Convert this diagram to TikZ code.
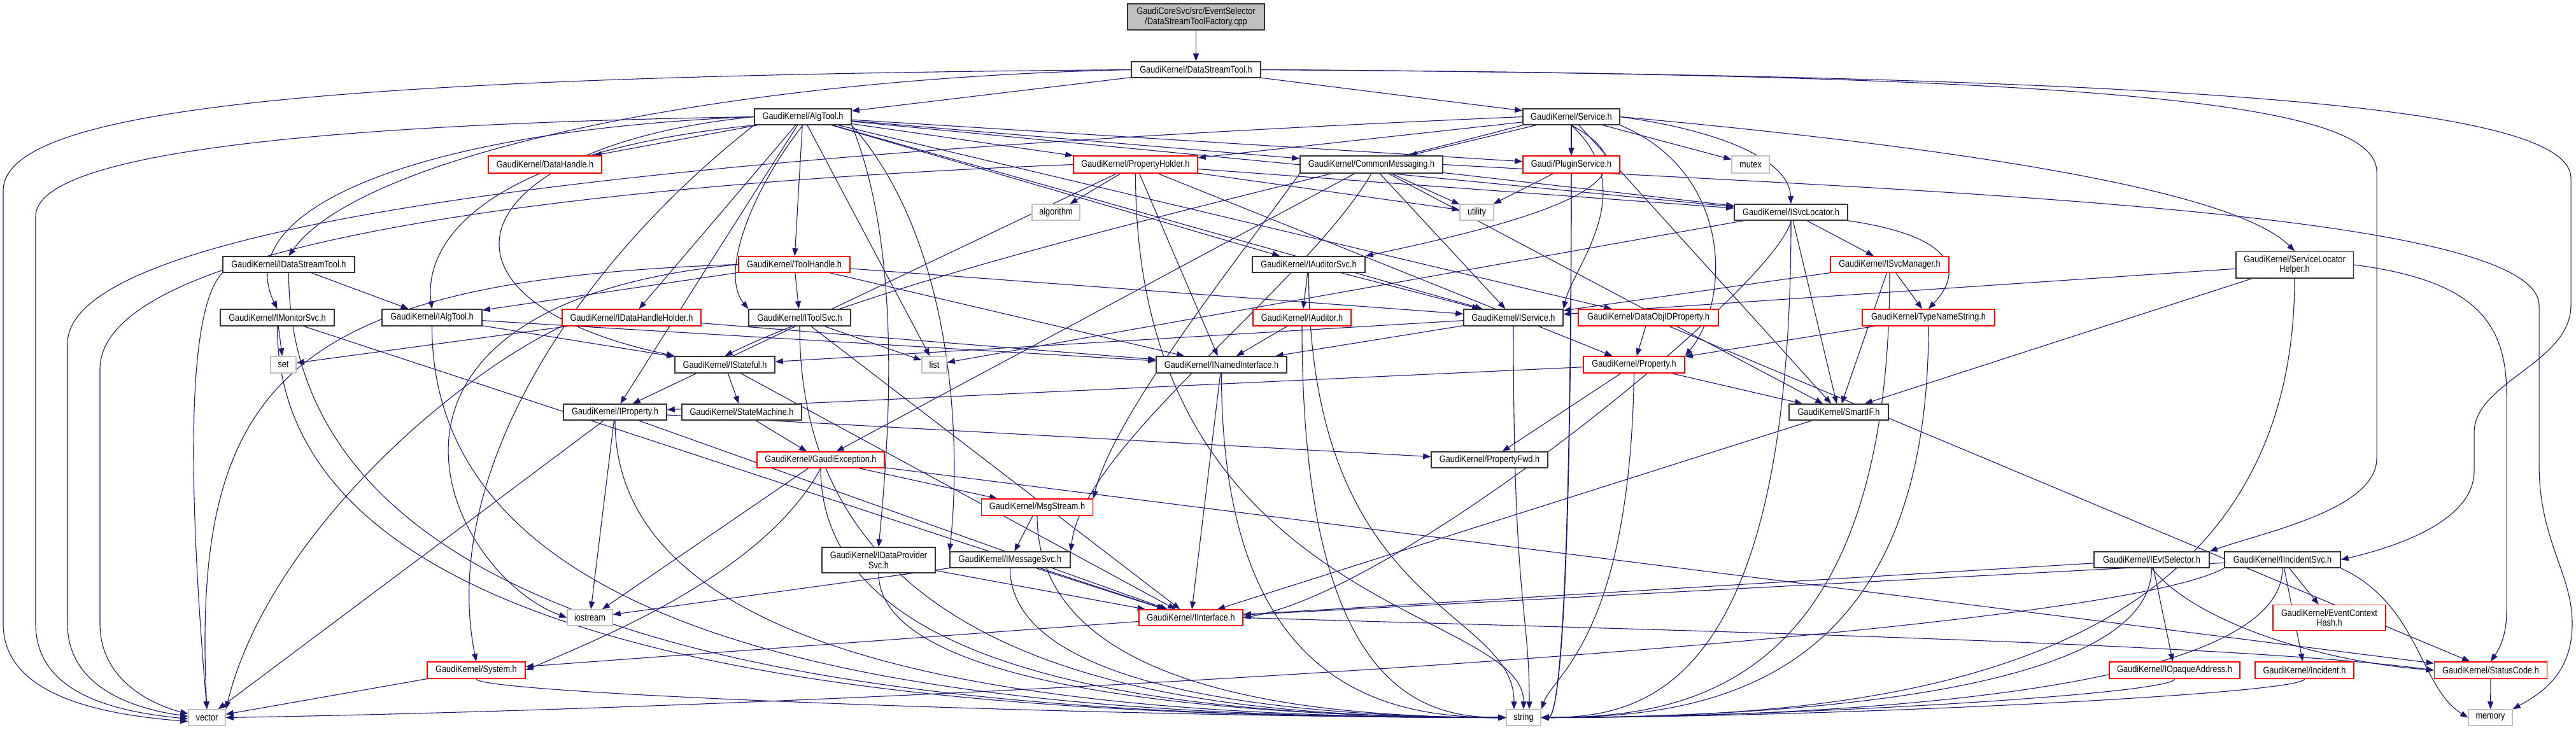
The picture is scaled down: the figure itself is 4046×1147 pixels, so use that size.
\documentclass[tikz,border=0pt]{standalone}
\usepackage{fontspec}
\newfontfamily\lbfont{Liberation Sans}[FakeStretch=0.85]
\usetikzlibrary{arrows.meta,calc}
\definecolor{edgecol}{HTML}{191970}
\definecolor{nodegray}{HTML}{BFBFBF}
\pgfdeclarelayer{edgelayer}
\pgfsetlayers{edgelayer,main}
\tikzset{
  nb/.style={draw=black!80, line width=1.5pt, fill=white, inner sep=0pt, align=center,
             font={\lbfont\fontsize{15}{15.5}\selectfont}},
  rb/.style={nb, draw=red},
  gb/.style={nb, draw=nodegray},
  rootb/.style={nb, fill=nodegray},
  edge/.style={draw=edgecol, line width=1.1pt, -{Triangle[length=12pt,width=9pt]}},
}
\newcommand\nd[7]{\node[#1,minimum width=#5pt,minimum height=#6pt] (#2) at (#3,#4) {#7};}
\newcommand\strL[1]{\draw[edge] (#1.south) .. controls (#1.south |- 0,1090) and ($(#1.south |- 0,1125)!0.6!(string.west)$) .. (string.west);}
\newcommand\strR[1]{\draw[edge] (#1.south) .. controls (#1.south |- 0,1090) and ($(#1.south |- 0,1125)!0.6!(string.east)$) .. (string.east);}
\newcommand\strT[2]{\draw[edge] (#1.south) .. controls (#1.south |- 0,960) and ($(string.north)+(#2,-160)$) .. ($(string.north)+(#2,0)$);}
\begin{document}
\begin{tikzpicture}[x=1pt,y=-1pt]
\useasboundingbox (0,0) rectangle (4046,1147);
% nodes
\nd{rootb}{root}{1878.5}{26.5}{215}{41}{GaudiCoreSvc/src/EventSelector\\/DataStreamToolFactory.cpp}
\nd{nb}{dst}{1878.5}{109.5}{203}{25}{GaudiKernel/DataStreamTool.h}
\nd{nb}{algtool}{1261}{183.5}{152}{25}{GaudiKernel/AlgTool.h}
\nd{nb}{service}{2468}{183.5}{152}{25}{GaudiKernel/Service.h}
\nd{rb}{datahandle}{856}{258.5}{178}{27}{GaudiKernel/DataHandle.h}
\nd{rb}{propholder}{1783.5}{258.5}{195}{27}{GaudiKernel/PropertyHolder.h}
\nd{nb}{commonmsg}{2154}{258.5}{224}{27}{GaudiKernel/CommonMessaging.h}
\nd{rb}{pluginsvc}{2468}{258.5}{152}{27}{Gaudi/PluginService.h}
\nd{gb}{mutex}{2749.5}{258.5}{59}{27}{mutex}
\nd{gb}{algorithm}{1658.5}{333.5}{75}{25}{algorithm}
\nd{gb}{utility}{2319.5}{333.5}{53}{25}{utility}
\nd{nb}{isvcloc}{2813}{333.5}{178}{25}{GaudiKernel/ISvcLocator.h}
\nd{nb}{idst}{453.5}{415.5}{207}{25}{GaudiKernel/IDataStreamTool.h}
\nd{rb}{toolhandle}{1247.5}{415.5}{175}{25}{GaudiKernel/ToolHandle.h}
\nd{nb}{iauditorsvc}{2055.5}{415.5}{177}{25}{GaudiKernel/IAuditorSvc.h}
\nd{rb}{isvcmgr}{2968}{415.5}{186}{25}{GaudiKernel/ISvcManager.h}
\nd{nb}{slh}{3604}{416}{184.5}{41.5}{GaudiKernel/ServiceLocator\\Helper.h}
\nd{nb}{imonitorsvc}{435.5}{499}{179}{26}{GaudiKernel/IMonitorSvc.h}
\nd{nb}{ialgtool}{678.5}{499}{157}{26}{GaudiKernel/IAlgTool.h}
\nd{rb}{idhh}{992}{499}{218}{26}{GaudiKernel/IDataHandleHolder.h}
\nd{nb}{itoolsvc}{1256}{499}{160}{26}{GaudiKernel/IToolSvc.h}
\nd{rb}{iauditor}{2045}{499}{154}{26}{GaudiKernel/IAuditor.h}
\nd{nb}{iservice}{2377}{499}{156}{26}{GaudiKernel/IService.h}
\nd{rb}{dataobjid}{2589}{499}{220}{26}{GaudiKernel/DataObjIDProperty.h}
\nd{rb}{typename}{3029}{499}{208}{26}{GaudiKernel/TypeNameString.h}
\nd{gb}{set}{445}{573}{40}{26}{set}
\nd{nb}{istateful}{1138.5}{573}{157}{26}{GaudiKernel/IStateful.h}
\nd{gb}{list}{1467.5}{573}{39}{26}{list}
\nd{nb}{inamed}{1918.5}{573}{205}{26}{GaudiKernel/INamedInterface.h}
\nd{rb}{property}{2566.5}{573}{159}{26}{GaudiKernel/Property.h}
\nd{nb}{iproperty}{966}{647.5}{162}{25}{GaudiKernel/IProperty.h}
\nd{nb}{statemachine}{1165}{647.5}{188}{25}{GaudiKernel/StateMachine.h}
\nd{nb}{smartif}{2888}{647.5}{156}{25}{GaudiKernel/SmartIF.h}
\nd{rb}{gaudiexc}{1289}{722.5}{200}{25}{GaudiKernel/GaudiException.h}
\nd{nb}{propfwd}{2339.5}{722.5}{183}{25}{GaudiKernel/PropertyFwd.h}
\nd{rb}{msgstream}{1629}{797}{175}{26}{GaudiKernel/MsgStream.h}
\nd{nb}{idps}{1380}{880}{178}{40}{GaudiKernel/IDataProvider\\Svc.h}
\nd{nb}{imessagesvc}{1586.5}{879.5}{189}{25}{GaudiKernel/IMessageSvc.h}
\nd{nb}{ievtsel}{3379.5}{879.5}{181}{25}{GaudiKernel/IEvtSelector.h}
\nd{nb}{iincsvc}{3585}{879.5}{182}{25}{GaudiKernel/IIncidentSvc.h}
\nd{gb}{iostream}{926.5}{970.5}{71}{25}{iostream}
\nd{rb}{iinterface}{1870.5}{970.5}{163}{25}{GaudiKernel/IInterface.h}
\nd{rb}{ech}{3658.5}{970.5}{177}{40}{GaudiKernel/EventContext\\Hash.h}
\nd{rb}{system}{748}{1053}{154}{26}{GaudiKernel/System.h}
\nd{rb}{iopaque}{3415.5}{1053}{205}{26}{GaudiKernel/IOpaqueAddress.h}
\nd{rb}{incident}{3619.5}{1053}{155}{26}{GaudiKernel/Incident.h}
\nd{rb}{statuscode}{3912}{1053}{177}{26}{GaudiKernel/StatusCode.h}
\nd{gb}{vector}{325}{1127.5}{58}{25}{vector}
\nd{gb}{string}{2393}{1127.5}{54}{25}{string}
\nd{gb}{memory}{3911.5}{1127.5}{69}{25}{memory}
\begin{pgfonlayer}{edgelayer}
\fill[white] (0,0) rectangle (4046,1147);
% root and DataStreamTool
\draw[edge] (root) -- (dst);
\draw[edge] (dst) -- (algtool);
\draw[edge] (dst) -- (service);
\draw[edge] (dst.west) .. controls (1100,125) and (560,250) .. (idst.north);
\draw[edge] (dst.west) .. controls (500,120) and (5,170) .. (5,300) -- (5,980) .. controls (5,1090) and (150,1122) .. ([yshift=-6pt]vector.west);
\draw[edge] (dst.east) .. controls (3300,118) and (3733,160) .. (3733,270) -- (3733,720) .. controls (3733,800) and (3560,835) .. (ievtsel.north east);
\draw[edge] (dst.east) .. controls (3500,120) and (4038,170) .. (4038,280) -- (4038,480) .. controls (4038,570) and (3886,600) .. (3886,680) -- (3886,740) .. controls (3886,820) and (3760,860) .. (iincsvc.east);
% AlgTool
\draw[edge] (algtool) -- (datahandle);
\draw[edge] (algtool) -- (propholder);
\draw[edge] (algtool) -- (commonmsg);
\draw[edge] (algtool) -- (pluginsvc);
\draw[edge] (algtool) -- (isvcloc);
\draw[edge] (algtool) -- (iauditorsvc);
\draw[edge] (algtool) -- (toolhandle);
\draw[edge] (algtool.south west) .. controls (760,240) and (665,380) .. (ialgtool.north);
\draw[edge] (algtool.west) .. controls (650,205) and (360,330) .. (imonitorsvc.north);
\draw[edge] (algtool) -- (idhh);
\draw[edge] (algtool.south) .. controls (1180,300) and (1130,430) .. (itoolsvc.north west);
\draw[edge] (algtool.west) .. controls (720,230) and (640,470) .. (istateful.north west);
\draw[edge] (algtool) -- (iproperty);
\draw[edge] (algtool) -- (iservice);
\draw[edge] (algtool) -- (dataobjid);
\draw[edge] (algtool) -- (list);
\draw[edge] (algtool.south east) .. controls (1420,400) and (1395,700) .. (idps.north);
\draw[edge] (algtool.south east) .. controls (1500,380) and (1510,700) .. (imessagesvc.north west);
\draw[edge] (algtool.west) .. controls (500,195) and (56,240) .. (56,340) -- (56,980) .. controls (56,1090) and (180,1118) .. ([yshift=-2pt]vector.west);
\draw[edge] (algtool.south west) .. controls (900,420) and (690,750) .. (system.north);
% Service
\draw[edge] (service) -- (commonmsg);
\draw[edge] (service) -- (pluginsvc);
\draw[edge] (service) -- (mutex);
\draw[edge] (service) -- (propholder);
\draw[edge] (service.east) .. controls (2700,205) and (2810,250) .. (isvcloc.north);
\draw[edge] (service.south) .. controls (2620,280) and (2440,340) .. (iauditorsvc.north east);
\draw[edge] (service.south) .. controls (2580,300) and (2470,420) .. (iservice.north east);
\draw[edge] (service.east) .. controls (3000,225) and (3500,290) .. (slh.north);
\draw[edge] (service.south east) .. controls (2720,270) and (2720,470) .. (property.north east);
\draw[edge] (service) -- (smartif);
\draw[edge] (service.south west) .. controls (2000,300) and (1400,430) .. (istateful.north);
\draw[edge] (service.west) .. controls (1200,235) and (106,330) .. (106,540) -- (106,980) .. controls (106,1085) and (220,1115) .. ([yshift=2pt]vector.west);
\strR{service}
% PropertyHolder
\draw[edge] (propholder) -- (algorithm);
\draw[edge] (propholder) -- (utility);
\draw[edge] (propholder) -- (iproperty);
\draw[edge] (propholder) -- (inamed);
\draw[edge] (propholder) -- (property);
\draw[edge] (propholder) -- (isvcloc);
\draw[edge] (propholder.west) .. controls (900,290) and (157,380) .. (157,580) -- (157,980) .. controls (157,1075) and (250,1110) .. ([yshift=6pt]vector.west);
\strT{propholder}{0}
% CommonMessaging
\draw[edge] (commonmsg) -- (utility);
\draw[edge] (commonmsg) -- (isvcloc);
\draw[edge] (commonmsg.south) .. controls (2050,450) and (1700,700) .. (imessagesvc.north east);
\draw[edge] (commonmsg.south west) .. controls (1950,400) and (1750,650) .. (msgstream.north east);
\draw[edge] (commonmsg) -- (smartif);
\draw[edge] (commonmsg) -- (gaudiexc);
\draw[edge] (commonmsg) -- (iservice);
\draw[edge] (commonmsg.east) .. controls (3000,300) and (3988,330) .. (3988,480) -- (3988,730) .. controls (3988,850) and (4040,900) .. (4040,980) .. controls (4040,1060) and (3990,1090) .. (memory.north east);
% PluginService
\draw[edge] (pluginsvc) -- (utility);
\strR{pluginsvc}
% ISvcLocator
\draw[edge] (isvcloc) -- (isvcmgr);
\draw[edge] (isvcloc.south east) .. controls (3060,370) and (3090,420) .. (typename.north);
\draw[edge] (isvcloc) -- (smartif);
\draw[edge] (isvcloc) -- (list);
\draw[edge] (isvcloc.south) .. controls (2790,450) and (2200,930) .. (iinterface.east);
\strR{isvcloc}
% ISvcManager
\draw[edge] (isvcmgr) -- (typename);
\draw[edge] (isvcmgr) -- (smartif);
\draw[edge] (isvcmgr) -- (iservice);
\strR{isvcmgr}
% TypeNameString
\draw[edge] (typename) -- (property);
\strR{typename}
% ServiceLocatorHelper
\draw[edge] (slh) -- (iservice);
\draw[edge] (slh) -- (smartif);
\draw[edge] (slh.east) .. controls (3880,440) and (3937,500) .. (3937,620) -- (3937,960) .. controls (3937,1000) and (3925,1020) .. (statuscode.north);
\strR{slh}
% IDataStreamTool
\draw[edge] (idst) -- (ialgtool);
\draw[edge] (idst.south west) .. controls (300,480) and (290,700) .. (vector.north);
\strL{idst}
% ToolHandle
\draw[edge] (toolhandle) -- (ialgtool);
\draw[edge] (toolhandle) -- (itoolsvc);
\draw[edge] (toolhandle) -- (inamed);
\draw[edge] (toolhandle) -- (iservice);
\draw[edge] (toolhandle.west) .. controls (450,440) and (300,600) .. (vector.north);
\draw[edge] (toolhandle.west) .. controls (500,480) and (700,900) .. (iostream.west);
% IAuditorSvc, IAuditor
\draw[edge] (iauditorsvc) -- (iauditor);
\draw[edge] (iauditorsvc) -- (iservice);
\strT{iauditorsvc}{-15}
\draw[edge] (iauditor) -- (inamed);
\strL{iauditor}
% IMonitorSvc
\draw[edge] (imonitorsvc) -- (set);
\draw[edge] (imonitorsvc) -- (iinterface);
\strL{imonitorsvc}
% IAlgTool
\draw[edge] (ialgtool) -- (inamed);
\draw[edge] (ialgtool) -- (istateful);
\strL{ialgtool}
% IDataHandleHolder
\draw[edge] (idhh) -- (inamed);
\draw[edge] (idhh) -- (set);
\draw[edge] (idhh.south west) .. controls (700,600) and (420,850) .. (vector.north east);
% IToolSvc
\draw[edge] (itoolsvc) -- (list);
\draw[edge] (itoolsvc) -- (iinterface);
\strL{itoolsvc}
% IService
\draw[edge] (iservice) -- (inamed);
\draw[edge] (iservice) -- (istateful);
\strT{iservice}{9}
% DataObjIDProperty
\draw[edge] (dataobjid) -- (property);
\draw[edge] (dataobjid) -- (statuscode);
% IStateful, INamedInterface
\draw[edge] (istateful) -- (statemachine);
\draw[edge] (istateful) -- (iinterface);
\draw[edge] (inamed) -- (iinterface);
\strL{inamed}
% Property
\draw[edge] (property) -- (iproperty);
\draw[edge] (property) -- (propfwd);
\draw[edge] (property) -- (smartif);
\draw[edge] (property.south) .. controls (2560,1000) and (2440,1060) .. (string.north east);
% IProperty
\draw[edge] (iproperty) -- (propfwd);
\draw[edge] (iproperty) -- (iinterface);
\draw[edge] (iproperty) -- (iostream);
\draw[edge] (iproperty) -- (vector);
\strL{iproperty}
% StateMachine, SmartIF
\draw[edge] (statemachine) -- (gaudiexc);
\draw[edge] (smartif) -- (iinterface);
% GaudiException
\draw[edge] (gaudiexc.south) .. controls (1200,900) and (950,1000) .. (system.east);
\draw[edge] (gaudiexc) -- (msgstream);
\draw[edge] (gaudiexc) -- (iostream);
\draw[edge] (gaudiexc) -- (statuscode);
\strL{gaudiexc}
% MsgStream, IMessageSvc, IDataProviderSvc
\draw[edge] (msgstream) -- (imessagesvc);
\strL{msgstream}
\draw[edge] (imessagesvc) -- (iinterface);
\draw[edge] (imessagesvc) -- (iostream);
\strL{imessagesvc}
\draw[edge] (idps) -- (iinterface);
\strL{idps}
% IEvtSelector
\draw[edge] (ievtsel) -- (iinterface);
\draw[edge] (ievtsel) -- (iopaque);
\draw[edge] (ievtsel.south) .. controls (3450,980) and (3650,1040) .. (statuscode.west);
\strR{ievtsel}
% IIncidentSvc
\draw[edge] (iincsvc) -- (incident);
\draw[edge] (iincsvc) -- (ech);
\draw[edge] (iincsvc) -- (iinterface);
\draw[edge] (iincsvc.south east) .. controls (3800,950) and (3800,1080) .. (memory.west);
\strR{iincsvc}
\draw[edge] (iincsvc.south west) .. controls (3300,1000) and (1500,1108) .. (vector.east);
% leaves
\strR{iopaque}
\strR{incident}
\draw[edge] (statuscode) -- (memory);
\draw[edge] (system) -- (vector);
\strL{system}
\draw[edge] (iinterface) -- (system);
\draw[edge] (iinterface.east) .. controls (2600,990) and (3500,1010) .. (statuscode.west);
\end{pgfonlayer}
\end{tikzpicture}
\end{document}
